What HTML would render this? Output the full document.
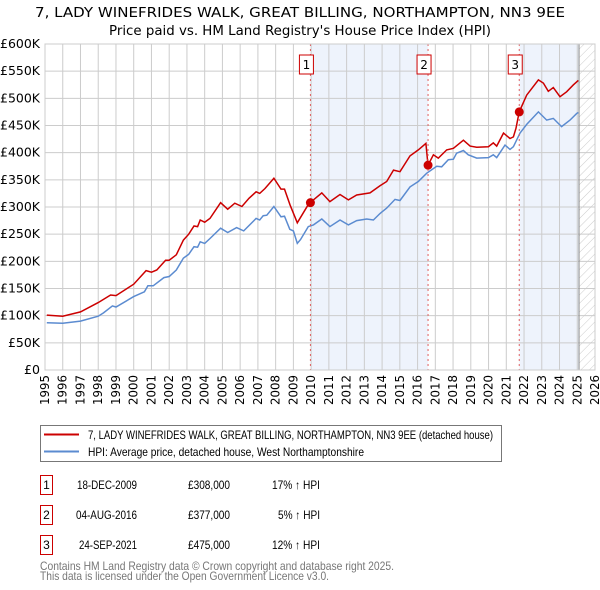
<!DOCTYPE html>
<html><head><meta charset="utf-8">
<style>
body{margin:0;background:#fff;}
svg text{font-family:"DejaVu Sans","Liberation Sans",sans-serif;fill:#000;}
svg text.ls{font-family:"Liberation Sans","DejaVu Sans",sans-serif;}
</style></head><body>
<svg id="chart" width="600" height="590" style="position:absolute;left:0;top:0">
<text x="300" y="17" text-anchor="middle" font-size="13" textLength="530" lengthAdjust="spacingAndGlyphs">7, LADY WINEFRIDES WALK, GREAT BILLING, NORTHAMPTON, NN3 9EE</text>
<text x="300" y="35" text-anchor="middle" font-size="13" textLength="382" lengthAdjust="spacingAndGlyphs">Price paid vs. HM Land Registry's House Price Index (HPI)</text>
<defs><pattern id="hatch" width="6" height="6" patternUnits="userSpaceOnUse" patternTransform="rotate(45)"><line x1="0" y1="0" x2="0" y2="6" stroke="#ccc" stroke-width="1"/></pattern></defs>
<g id="bg"></g><g id="grid"></g><g id="lines"></g><g id="marks"></g><g id="axes"></g>
<g>
 <rect x="40.5" y="425.5" width="461" height="36" fill="#fff" stroke="#777"/>
 <line x1="44" x2="79" y1="434.5" y2="434.5" stroke="#c00" stroke-width="2"/>
 <text class="ls" x="88" y="439" font-size="12" textLength="405" lengthAdjust="spacingAndGlyphs">7, LADY WINEFRIDES WALK, GREAT BILLING, NORTHAMPTON, NN3 9EE (detached house)</text>
 <line x1="44" x2="79" y1="451.5" y2="451.5" stroke="#5b8bd0" stroke-width="2"/>
 <text class="ls" x="88" y="456" font-size="12" textLength="276" lengthAdjust="spacingAndGlyphs">HPI: Average price, detached house, West Northamptonshire</text>
</g>
<g font-size="12">
 <rect x="40.5" y="475.5" width="12" height="19" fill="none" stroke="#c00"/>
 <text class="ls" x="46.5" y="489" text-anchor="middle" font-size="12">1</text>
 <text class="ls" x="77" y="489" textLength="60" lengthAdjust="spacingAndGlyphs">18-DEC-2009</text>
 <text class="ls" x="188" y="489" textLength="42" lengthAdjust="spacingAndGlyphs">£308,000</text>
 <text class="ls" x="272" y="489" textLength="48" lengthAdjust="spacingAndGlyphs">17% ↑ HPI</text>
 <rect x="40.5" y="505.5" width="12" height="19" fill="none" stroke="#c00"/>
 <text class="ls" x="46.5" y="519" text-anchor="middle" font-size="12">2</text>
 <text class="ls" x="76" y="519" textLength="61" lengthAdjust="spacingAndGlyphs">04-AUG-2016</text>
 <text class="ls" x="188" y="519" textLength="42" lengthAdjust="spacingAndGlyphs">£377,000</text>
 <text class="ls" x="278" y="519" textLength="42" lengthAdjust="spacingAndGlyphs">5% ↑ HPI</text>
 <rect x="40.5" y="535.5" width="12" height="19" fill="none" stroke="#c00"/>
 <text class="ls" x="46.5" y="549" text-anchor="middle" font-size="12">3</text>
 <text class="ls" x="79" y="549" textLength="58" lengthAdjust="spacingAndGlyphs">24-SEP-2021</text>
 <text class="ls" x="188" y="549" textLength="42" lengthAdjust="spacingAndGlyphs">£475,000</text>
 <text class="ls" x="272" y="549" textLength="48" lengthAdjust="spacingAndGlyphs">12% ↑ HPI</text>
</g>
<g>
 <text class="ls" x="40" y="570" font-size="12" style="fill:#777" textLength="354" lengthAdjust="spacingAndGlyphs">Contains HM Land Registry data © Crown copyright and database right 2025.</text>
 <text class="ls" x="40" y="580" font-size="12" style="fill:#777" textLength="289" lengthAdjust="spacingAndGlyphs">This data is licensed under the Open Government Licence v3.0.</text>
</g>
</svg>
<script>
const hpiYears=[1995.1,1996,1997,1998,1998.3,1998.8,1999,2000,2000.6,2000.8,2001.1,2001.7,2002,2002.4,2002.8,2003.1,2003.4,2003.6,2003.75,2004,2004.3,2004.9,2005.3,2005.8,2006.2,2006.9,2007.1,2007.3,2007.5,2007.9,2008.3,2008.5,2008.8,2009,2009.22,2009.4,2009.84,2010.13,2010.6,2011.06,2011.63,2012.1,2012.57,2013.13,2013.51,2013.88,2014.26,2014.73,2015.01,2015.57,2016.04,2016.51,2017.08,2017.36,2017.73,2018.02,2018.2,2018.58,2018.86,2019.33,2019.99,2020.27,2020.46,2020.93,2021.21,2021.4,2021.77,2022.15,2022.81,2023.28,2023.65,2024.12,2024.59,2024.97,2025.06];
const hpiValues=[87,86,90,99,105,118,116,135,144,155,155,170,172,184,206,213,227,226,236,233,242,261,253,262,256,279,276,284,285,301,282,283,259,256,233,240,264,267,278,264,276,267,275,278,276,288,298,314,312,337,347,362,375,374,387,388,399,404,396,390,391,396,391,414,406,411,436,452,475,460,463,448,460,472,474];
const redYears=[1995.1,1996,1997,1998,1998.7,1999,2000,2000.7,2001,2001.3,2001.8,2002,2002.4,2002.8,2003.1,2003.4,2003.6,2003.75,2004,2004.3,2004.9,2005.3,2005.7,2006.1,2006.5,2006.9,2007.1,2007.4,2007.9,2008.3,2008.5,2008.81,2009.22,2009.9,2010.13,2010.6,2011.06,2011.63,2012.1,2012.57,2013.32,2013.88,2014.26,2014.64,2015.01,2015.57,2016.04,2016.47,2016.59,2016.89,2017.17,2017.64,2018.02,2018.58,2018.96,2019.33,2019.99,2020.27,2020.46,2020.84,2021.21,2021.4,2021.55,2021.73,2022.15,2022.81,2023.09,2023.37,2023.65,2024.03,2024.4,2024.78,2025.06];
const redValues=[101,99,107,124,138,137,158,183,180,184,202,202,212,239,250,265,264,276,272,279,308,296,307,301,316,328,325,334,353,333,333,304,271,308,313,326,310,323,313,322,326,339,347,368,365,394,405,417,377,396,390,405,408,423,412,410,411,418,412,436,426,429,445,475,506,534,528,513,520,503,512,525,533];
const saleYears=[2009.96,2016.59,2021.73];
const saleValues=[308,377,475];
const saleLabels=["1","2","3"];
const yTicks=[0,50,100,150,200,250,300,350,400,450,500,550,600];
const yTickLabels=["£0","£50K","£100K","£150K","£200K","£250K","£300K","£350K","£400K","£450K","£500K","£550K","£600K"];
const xTicks=[1995,1996,1997,1998,1999,2000,2001,2002,2003,2004,2005,2006,2007,2008,2009,2010,2011,2012,2013,2014,2015,2016,2017,2018,2019,2020,2021,2022,2023,2024,2025,2026];
const dataEnd=2025.1;

const X0=45,X1=595,Y0=370,Y1=44;
const sx=y=>X0+(y-1995)/(2026-1995)*(X1-X0);
const sy=v=>Y0-v/600*(Y0-Y1);
const NS="http://www.w3.org/2000/svg";
function mk(tag,attrs,parent){const e=document.createElementNS(NS,tag);for(const k in attrs)e.setAttribute(k,attrs[k]);document.getElementById(parent).appendChild(e);return e;}
let e;
e=mk('rect',{x:sx(saleYears[0]),y:Y1,width:sx(saleYears[1])-sx(saleYears[0]),height:Y0-Y1,fill:'#eef3fc'},'bg');


e=mk('rect',{x:sx(saleYears[2]),y:Y1,width:sx(dataEnd)-sx(saleYears[2]),height:Y0-Y1,fill:'#eef3fc'},'bg');


e=mk('rect',{x:sx(dataEnd),y:Y1,width:X1-sx(dataEnd),height:Y0-Y1,fill:'url(#hatch)'},'bg');


yTicks.forEach((v,i)=>{
 e=mk('line',{x1:X0,x2:X1,y1:sy(v),y2:sy(v),stroke:'#ccc','stroke-width':1},'grid');
 
 
 e=mk('text',{x:X0-5,y:sy(v)+4,'text-anchor':'end','font-size':12,textLength:yTickLabels[i].length*8,lengthAdjust:'spacingAndGlyphs'},'axes');e.textContent=yTickLabels[i];
 
 
});
xTicks.forEach(y=>{
 e=mk('line',{x1:sx(y),x2:sx(y),y1:Y1,y2:Y0,stroke:'#ccc','stroke-width':1},'grid');
 
 
 e=mk('text',{x:0,y:0,'text-anchor':'end','font-size':12,textLength:30,lengthAdjust:'spacingAndGlyphs',transform:`translate(${sx(y)+4},${Y0+5}) rotate(-90)`},'axes');e.textContent=y;
 
 
});
e=mk('line',{x1:sx(dataEnd),x2:sx(dataEnd),y1:Y1,y2:Y0,stroke:'#888','stroke-width':1},'grid');


saleYears.forEach((y,i)=>{
 e=mk('line',{x1:sx(y),x2:sx(y),y1:Y1,y2:Y0,stroke:'#e06060','stroke-width':1,'stroke-dasharray':'2,3'},'marks');
 
 
 e=mk('rect',{x:sx(y)-11,y:55,width:14,height:19,fill:'#fff',stroke:'#c00'},'marks');
 
 
 e=mk('text',{x:sx(y)-4,y:69,'text-anchor':'middle','font-size':12},'marks');e.textContent=saleLabels[i];
 
 
});
function path(xs,vs){return xs.map((y,i)=>(i?'L':'M')+sx(y).toFixed(1)+','+sy(vs[i]).toFixed(1)).join('');}
e=mk('path',{d:path(hpiYears,hpiValues),fill:'none',stroke:'#5b8bd0','stroke-width':1.5},'lines');


e=mk('path',{d:path(redYears,redValues),fill:'none',stroke:'#c00','stroke-width':1.5},'lines');


saleYears.forEach((y,i)=>{
 e=mk('circle',{cx:sx(y),cy:sy(saleValues[i]),r:4.5,fill:'#c00'},'marks');
 
 
});
e=mk('rect',{x:X0,y:Y1,width:X1-X0,height:Y0-Y1,fill:'none',stroke:'#ccc'},'axes');


</script>
</body></html>
